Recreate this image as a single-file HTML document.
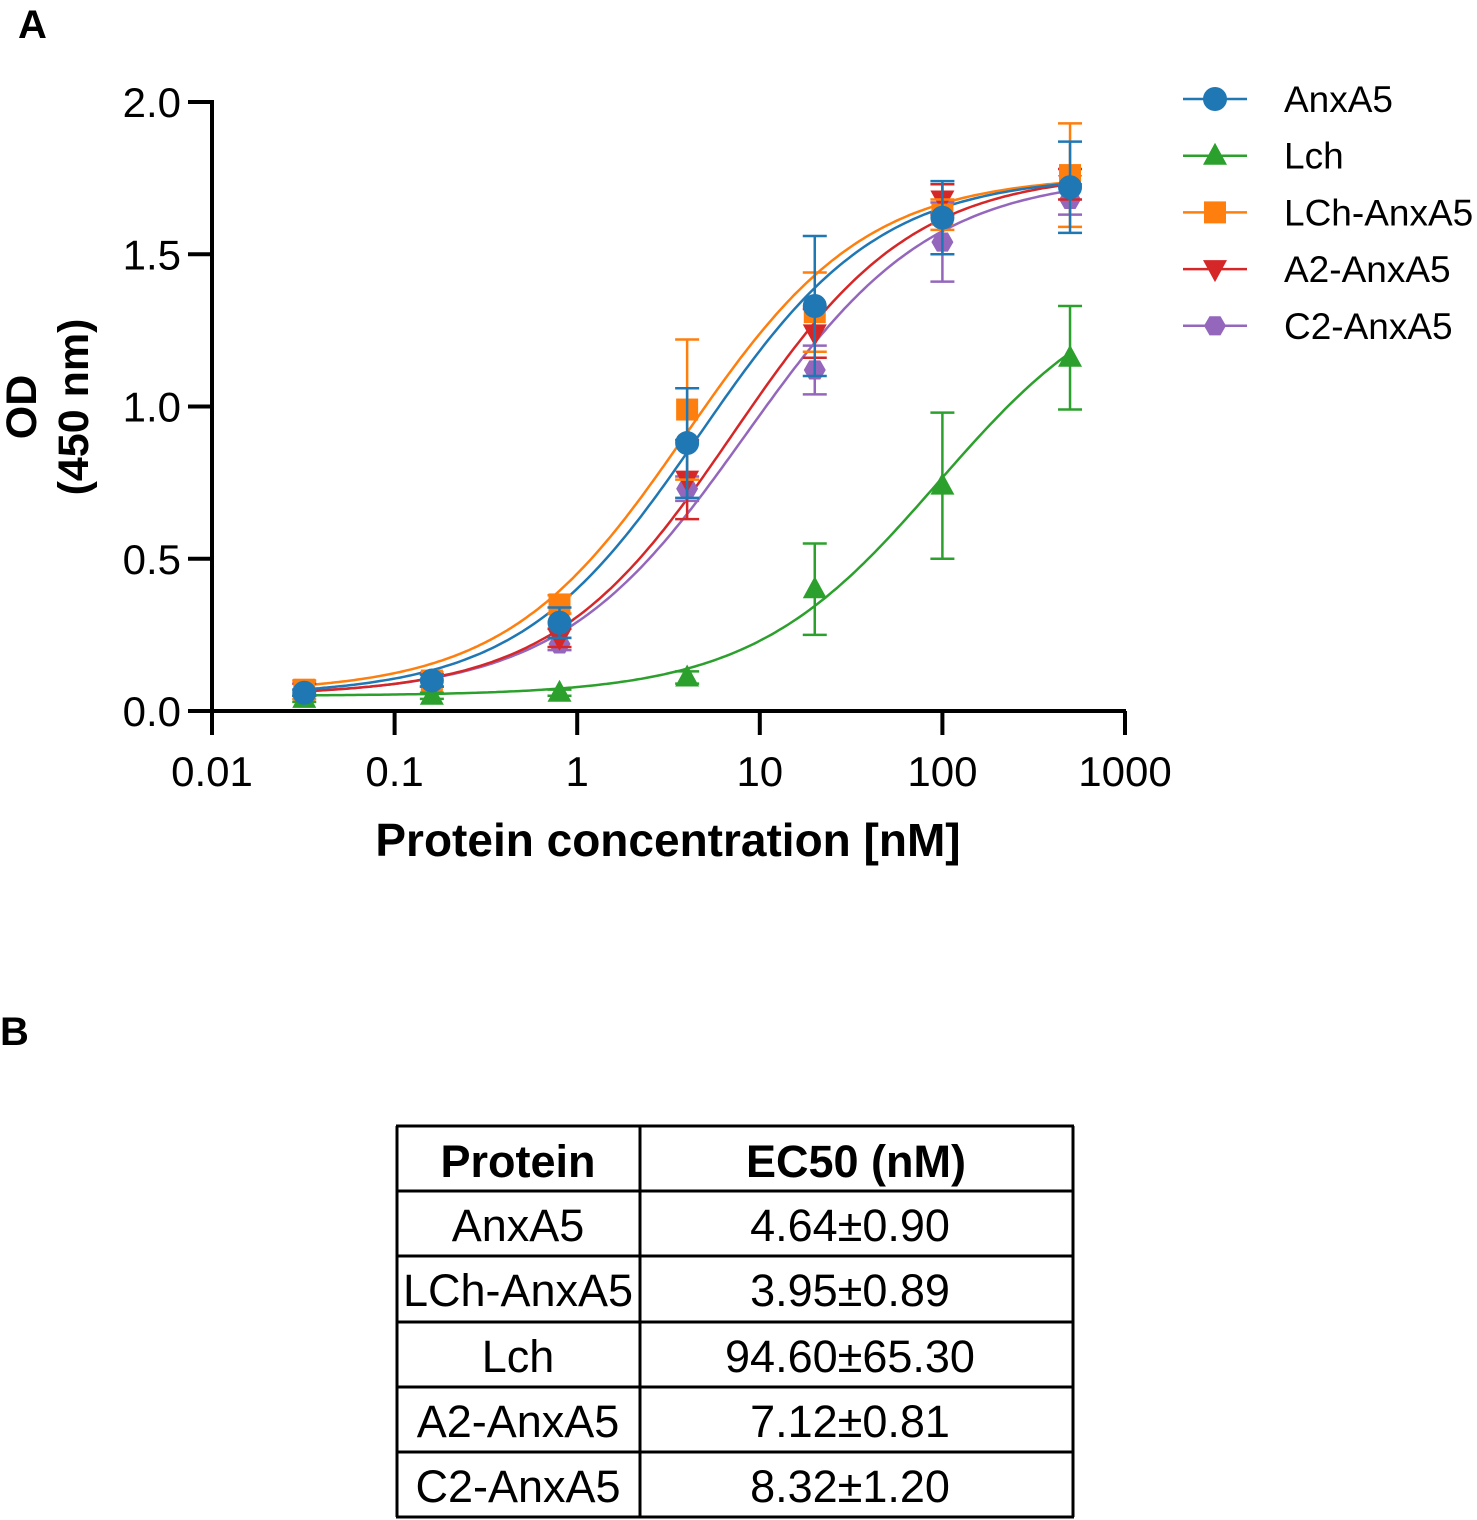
<!DOCTYPE html>
<html><head><meta charset="utf-8"><style>
body{margin:0;background:#fff;width:1477px;height:1520px;overflow:hidden;font-family:"Liberation Sans",sans-serif}
svg{position:absolute;left:0;top:0}
</style></head><body>
<svg id="chart" width="1477" height="1520">
<text x="18" y="38" font-size="40" font-weight="bold">A</text>
<text x="0" y="1045" font-size="40" font-weight="bold">B</text>
<g id="axes"></g><g id="curves"></g><g id="points"></g><g id="legend"></g>
<text x="668" y="856" font-size="46" font-weight="bold" text-anchor="middle">Protein concentration [nM]</text>
<g transform="translate(52,407) rotate(-90)">
<text x="0" y="-16" font-size="43" font-weight="bold" text-anchor="middle">OD</text>
<text x="0" y="36" font-size="43" font-weight="bold" text-anchor="middle">(450 nm)</text></g>
<g id="table"></g>
</svg>
<script>
const concentrations=[0.032,0.16,0.8,4,20,100,500];
const seriesNames=["AnxA5","Lch","LCh-AnxA5","A2-AnxA5","C2-AnxA5"];
const anxA5=[0.06,0.10,0.29,0.88,1.33,1.62,1.72];
const lch=[0.04,0.05,0.06,0.11,0.40,0.74,1.16];
const lchAnxA5=[0.07,0.10,0.35,0.99,1.31,1.63,1.76];
const a2AnxA5=[0.07,0.10,0.24,0.76,1.24,1.68,1.73];
const c2AnxA5=[0.06,0.10,0.22,0.73,1.12,1.54,1.68];
const errAnxA5=[0.01,0.02,0.05,0.18,0.23,0.12,0.15];
const errLch=[0.01,0.01,0.01,0.02,0.15,0.24,0.17];
const errLchAnxA5=[0.03,0.02,0.03,0.23,0.13,0.05,0.17];
const errA2=[0.02,0.02,0.03,0.13,0.08,0.05,0.05];
const errC2=[0.01,0.02,0.02,0.04,0.08,0.13,0.05];
const fitBottom=[0.05,0.05,0.06,0.05,0.05];
const fitTop=[1.76,1.45,1.76,1.77,1.76];
const fitEC50=[4.64,94.6,3.95,7.12,8.32];
const fitHill=[0.88,0.85,0.88,0.88,0.85];
const xTicks=[0.01,0.1,1,10,100,1000];
const xTickLabels=["0.01","0.1","1","10","100","1000"];
const yTicks=[0,0.5,1.0,1.5,2.0];
const yTickLabels=["0.0","0.5","1.0","1.5","2.0"];
const tableHeaders=["Protein","EC50 (nM)"];
const tableProteins=["AnxA5","LCh-AnxA5","Lch","A2-AnxA5","C2-AnxA5"];
const tableEC50=["4.64±0.90","3.95±0.89","94.60±65.30","7.12±0.81","8.32±1.20"];

const NS="http://www.w3.org/2000/svg";
const X=v=>212+(Math.log10(v)+2)*182.6;
const Y=v=>711-v*304.5;
function mk(tag,attrs,parent){const e=document.createElementNS(NS,tag);for(const k in attrs)e.setAttribute(k,attrs[k]);parent.appendChild(e);return e;}
const colors=["#1f77b4","#2ca02c","#ff7f0e","#d62728","#9467bd"];
const shapes=["circle","tri","square","dtri","hex"];
const data=[anxA5,lch,lchAnxA5,a2AnxA5,c2AnxA5];
const errs=[errAnxA5,errLch,errLchAnxA5,errA2,errC2];
const axes=document.getElementById('axes');
let a=mk('line',{x1:212,y1:Y(0),x2:1126,y2:Y(0),stroke:'#000','stroke-width':4},axes);

a=mk('line',{x1:212,y1:Y(2)-2,x2:212,y2:Y(0)+2,stroke:'#000','stroke-width':4},axes);

xTicks.forEach((t,i)=>{mk('line',{x1:X(t),y1:711,x2:X(t),y2:735,stroke:'#000','stroke-width':4},axes);
 const tx=mk('text',{x:X(t),y:786,'font-size':42,'text-anchor':'middle'},axes);tx.textContent=xTickLabels[i];
 });
yTicks.forEach((t,i)=>{mk('line',{x1:188,y1:Y(t),x2:212,y2:Y(t),stroke:'#000','stroke-width':4},axes);
 const tx=mk('text',{x:181,y:Y(t)+15,'font-size':42,'text-anchor':'end'},axes);tx.textContent=yTickLabels[i];
 });
function marker(s,cx,cy,c,g){const r=11;
 if(s==='circle')return mk('circle',{cx,cy,r:12,fill:c},g);
 if(s==='square')return mk('rect',{x:cx-11,y:cy-11,width:22,height:22,fill:c},g);
 if(s==='tri')return mk('polygon',{points:`${cx},${cy-13} ${cx-12},${cy+9} ${cx+12},${cy+9}`,fill:c},g);
 if(s==='dtri')return mk('polygon',{points:`${cx},${cy+13} ${cx-12},${cy-9} ${cx+12},${cy-9}`,fill:c},g);
 let p=[];for(let k=0;k<6;k++){const an=Math.PI/3*k;p.push((cx+r*Math.cos(an))+','+(cy+r*Math.sin(an)));}
 return mk('polygon',{points:p.join(' '),fill:c},g);}
const curves=document.getElementById('curves'),pts=document.getElementById('points');
const order=[4,3,1,2,0];
order.forEach(i=>{let d='';for(let k=0;k<=200;k++){const lx=Math.log10(0.032)+k/200*(Math.log10(500)-Math.log10(0.032));const x=Math.pow(10,lx);
 const v=fitBottom[i]+(fitTop[i]-fitBottom[i])/(1+Math.pow(fitEC50[i]/x,fitHill[i]));d+=(k?'L':'M')+X(x).toFixed(1)+','+Y(v).toFixed(1);}
 const p=mk('path',{d,fill:'none',stroke:colors[i],'stroke-width':2.5},curves);
 });
order.forEach(i=>{const g=mk('g',{},pts);
 concentrations.forEach((c,j)=>{const x=X(c),y=Y(data[i][j]),e=errs[i][j]*304.5;
  mk('path',{d:`M${x},${y-e}V${y+e}M${x-12},${y-e}h24M${x-12},${y+e}h24`,stroke:colors[i],'stroke-width':2.5,fill:'none'},g);
  const m=marker(shapes[i],x,y,colors[i],g);});});
const lg=document.getElementById('legend');
seriesNames.forEach((n,i)=>{const y=99+i*56.7;const g=mk('g',{},lg);
 
 mk('line',{x1:1183,y1:y,x2:1247,y2:y,stroke:colors[i],'stroke-width':2.5},g);marker(shapes[i],1215,y,colors[i],g);
 const t=mk('text',{x:1284,y:y+13,'font-size':37},g);t.textContent=n;});
const tb=document.getElementById('table');
const rows=[1126,1191,1256,1322,1387,1452,1517];
rows.forEach(r=>mk('line',{x1:396,y1:r,x2:1074,y2:r,stroke:'#000','stroke-width':3},tb));
[397,640,1073].forEach(x=>mk('line',{x1:x,y1:1126,x2:x,y2:1517,stroke:'#000','stroke-width':3},tb));
function cell(txt,x,y,b){const t=mk('text',{x,y,'font-size':45,'text-anchor':'middle','font-weight':b?'bold':'normal'},tb);t.textContent=txt;
 }
cell(tableHeaders[0],518,1177,true);cell(tableHeaders[1],856,1177,true);
tableProteins.forEach((p,i)=>{const y=rows[i+1]+50;cell(p,518,y,false);cell(tableEC50[i],850,y,false);});
</script>
</body></html>
